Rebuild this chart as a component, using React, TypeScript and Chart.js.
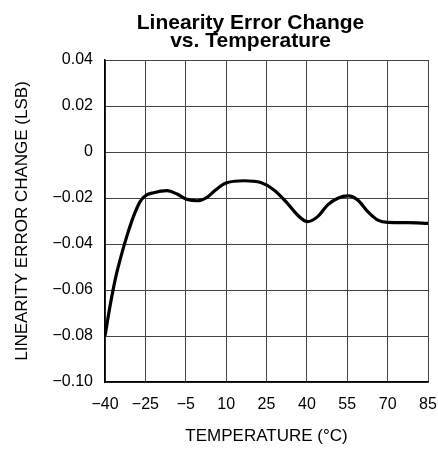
import React, { useEffect, useRef } from "react";
import { Chart, registerables } from "chart.js";

Chart.register(...registerables);

const titleLines = ["Linearity Error Change", "vs. Temperature"];
const xTitle = "TEMPERATURE (°C)";
const yTitle = "LINEARITY ERROR CHANGE (LSB)";
const xTickLabels = ["−40", "−25", "−5", "10", "25", "40", "55", "70", "85"];
const yTickLabels = ["−0.10", "−0.08", "−0.06", "−0.04", "−0.02", "0", "0.02", "0.04"];
const yTickValues = [-0.1, -0.08, -0.06, -0.04, -0.02, 0, 0.02, 0.04];

// temperature axis positions (equally spaced grid from -40 to 85)
const temps = [
  -40, -38.1, -36.1, -34.2, -31.6, -29.0, -26.4, -24.5, -21.2, -16.0, -12.1, -8.2, -4.4, -0.5, 2.8,
  6.6, 13.8, 20.3, 25.4, 30.6, 34.5, 38.4, 42.3, 46.2, 50.1, 54.2, 57.8, 61.7, 65.6, 69.5, 77.3, 85,
];
const errorChange = [
  -0.08, -0.0673, -0.0557, -0.047, -0.0368, -0.0281, -0.0216, -0.0191, -0.0177, -0.0168, -0.0183,
  -0.0206, -0.0212, -0.0197, -0.0165, -0.0136, -0.0125, -0.0133, -0.0165, -0.0223, -0.0274, -0.0303,
  -0.0281, -0.023, -0.0201, -0.0191, -0.0209, -0.0259, -0.0296, -0.0306, -0.0307, -0.031,
];

const FONT = "'Liberation Sans', Arial, sans-serif";

export default function App() {
  const ref = useRef<HTMLCanvasElement>(null);
  useEffect(() => {
    if (!ref.current) return;
    const titlePlugin = {
      id: "topTitle",
      afterDraw(chart: any) {
        const { ctx } = chart;
        ctx.save();
        ctx.fillStyle = "#000";
        ctx.font = `bold 21px ${FONT}`;
        ctx.textAlign = "center";
        ctx.textBaseline = "alphabetic";
        const cx = 250.5;
        ctx.fillText(titleLines[0], cx, 28.5);
        ctx.fillText(titleLines[1], cx, 47);
        ctx.restore();
      },
    };
    const chart = new Chart(ref.current, {
      type: "line",
      data: {
        datasets: [
          {
            data: temps.map((t, i) => ({ x: t, y: errorChange[i] })),
            borderColor: "#000",
            borderWidth: 3.2,
            pointRadius: 0,
            tension: 0.4,
            cubicInterpolationMode: "monotone",
            fill: false,
          },
        ],
      },
      options: {
        animation: false,
        responsive: false,
        maintainAspectRatio: false,
        layout: { padding: { top: 60, right: 10, left: 0, bottom: 0 } },
        plugins: { legend: { display: false }, tooltip: { enabled: false }, title: { display: false } },
        scales: {
          x: {
            type: "linear",
            min: -40,
            max: 85,
            afterBuildTicks: (scale: any) => {
              scale.ticks = xTickLabels.map((_, i) => ({ value: -40 + (125 / 8) * i }));
            },
            afterFit: (scale: any) => {
              scale.height = 68;
              scale.paddingRight = 0;
              scale.paddingLeft = 0;
            },
            ticks: {
              autoSkip: false,
              maxRotation: 0,
              color: "#000",
              font: { family: FONT, size: 16 },
              padding: 13,
              callback: (_v: any, i: number) => xTickLabels[i],
            },
            grid: { color: "#444", lineWidth: 1, drawTicks: false },
            border: { color: "#000", width: 1.5 },
            title: {
              display: true,
              text: xTitle,
              color: "#000",
              font: { family: FONT, size: 17 },
              padding: { top: 14, bottom: 3 },
            },
          },
          y: {
            type: "linear",
            min: -0.1,
            max: 0.04,
            afterBuildTicks: (scale: any) => {
              scale.ticks = yTickValues.map((v) => ({ value: v }));
            },
            afterFit: (scale: any) => {
              scale.width = 105;
              scale.paddingTop = 0;
              scale.paddingBottom = 0;
            },
            ticks: {
              autoSkip: false,
              color: "#000",
              font: { family: FONT, size: 16 },
              padding: 12,
              callback: (_v: any, i: number) => yTickLabels[i],
            },
            grid: { color: "#444", lineWidth: 1, drawTicks: false },
            border: { color: "#000", width: 1.5 },
            title: {
              display: true,
              text: yTitle,
              color: "#000",
              font: { family: FONT, size: 17 },
              padding: { top: 12, bottom: 0 },
            },
          },
        },
      },
      plugins: [titlePlugin],
    } as any);
    return () => chart.destroy();
  }, []);
  return (
    <div style={{ position: "fixed", left: 0, top: 0, width: 438, height: 450, background: "#fff" }}>
      <canvas ref={ref} width={438} height={450} style={{ width: 438, height: 450 }} />
    </div>
  );
}
